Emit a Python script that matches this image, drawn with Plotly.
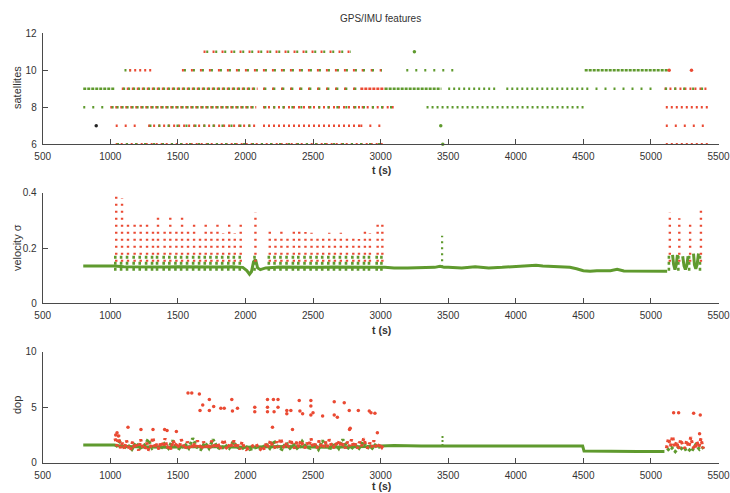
import plotly.graph_objects as go

# ---------------- data ----------------
# satellites in view: runs of fixes (start time, end time, count, class, density)
sat_t0 = [1690, 1710, 1105, 1140, 1530, 1545, 2860, 2870, 3190, 4510,
          800, 1085, 1095, 2130, 2140, 2850, 3030, 3500, 3930, 4590, 5100, 5105,
          800, 1000, 1010, 2130, 2140, 2860, 2870, 3340, 5110,
          1040, 1280, 1290, 2130, 2850, 5110,
          1040, 1050, 5110]
sat_t1 = [2800, 2780, 1150, 1320, 2850, 2840, 3020, 3010, 3580, 5130,
          1030, 2090, 2080, 2850, 2840, 3030, 3450, 3860, 4550, 5040, 5430, 5420,
          1000, 2080, 2070, 2860, 2850, 3100, 3090, 4510, 5430,
          1210, 2080, 2070, 2850, 3030, 5430,
          3020, 3010, 5430]
sat_lvl = [11, 11, 10, 10, 10, 10, 10, 10, 10, 10,
           9, 9, 9, 9, 9, 9, 9, 9, 9, 9, 9, 9,
           8, 8, 8, 8, 8, 8, 8, 8, 8,
           7, 7, 7, 7, 7, 7,
           6, 6, 6]
sat_cls = ["r", "g", "g", "r", "r", "g", "r", "g", "g", "g",
           "g", "r", "g", "r", "g", "r", "g", "g", "g", "g", "r", "g",
           "g", "r", "g", "r", "g", "r", "g", "g", "r",
           "r", "r", "g", "r", "r", "r",
           "r", "g", "r"]
sat_density = ["sparse", "sparse", "mid", "mid", "sparse", "sparse", "sparse", "sparse", "sparse", "dense",
               "dense", "mid", "mid", "sparse", "sparse", "dense", "dense", "mid", "mid", "sparse", "mid", "sparse",
               "sparse", "mid", "mid", "mid", "sparse", "mid", "sparse", "mid", "mid",
               "sparse", "mid", "sparse", "mid", "sparse", "sparse",
               "mid", "sparse", "mid"]
# single fixes
sat_pt_t = [3250, 5135, 5300, 896, 3445, 3460]
sat_pt_n = [11, 10, 10, 7, 7, 6]
sat_pt_cls = ["g", "r", "r", "k", "g", "g"]

# velocity sigma: smoothed baseline (None = gap)
vel_base_t = [800, 1030, 1100, 1200, 1300, 1400, 1500, 1600, 1700, 1800, 1900, 1980, 2010, 2030, 2045,
              2060, 2075, 2090, 2110, 2150, 2250, 2350, 2450, 2550, 2650, 2750, 2850, 2950, 3030,
              3100, 3200, 3300, 3400, 3440, 3470, 3500, 3600, 3700, 3800, 3900, 4000, 4100, 4150,
              4200, 4300, 4400, 4450, 4500, 4550, 4600, 4700, 4750, 4800, 4900, 5000, 5120,
              None, 5160, 5168, 5178, 5188, 5196,
              None, 5235, 5245, 5255, 5265, 5275,
              None, 5315, 5322, 5332, 5342, 5352]
vel_base_v = [0.135, 0.135, 0.132, 0.131, 0.132, 0.131, 0.132, 0.131, 0.132, 0.131, 0.132, 0.13, 0.118, 0.105, 0.115,
              0.15, 0.158, 0.128, 0.122, 0.128, 0.131, 0.13, 0.131, 0.13, 0.131, 0.13, 0.131, 0.13, 0.13,
              0.128, 0.128, 0.13, 0.13, 0.134, 0.13, 0.13, 0.128, 0.132, 0.128, 0.13, 0.133, 0.135, 0.138,
              0.135, 0.132, 0.13, 0.125, 0.118, 0.116, 0.118, 0.118, 0.123, 0.117, 0.116, 0.115, 0.116,
              None, 0.175, 0.14, 0.122, 0.14, 0.175,
              None, 0.17, 0.135, 0.122, 0.135, 0.17,
              None, 0.18, 0.14, 0.125, 0.14, 0.18]
# velocity sigma: peak of each excursion
vel_peak_t = [1044, 1087, 1131, 1180, 1225, 1272, 1316, 1353, 1402, 1444, 1489, 1531, 1575, 1620,
              1664, 1706, 1748, 1793, 1835, 1880, 1921, 1965, 2074, 2180, 2222, 2266, 2311, 2358,
              2398, 2444, 2489, 2533, 2575, 2620, 2662, 2706, 2751, 2798, 2840, 2884, 2921, 2978,
              3013, 5140, 5210, 5290, 5370]
vel_peak_v = [0.40, 0.38, 0.29, 0.30, 0.284, 0.30, 0.268, 0.316, 0.27, 0.317, 0.265, 0.326, 0.26, 0.29,
              0.247, 0.292, 0.26, 0.287, 0.253, 0.29, 0.253, 0.287, 0.328, 0.26, 0.247, 0.275, 0.235, 0.277,
              0.26, 0.258, 0.255, 0.25, 0.238, 0.255, 0.238, 0.255, 0.25, 0.245, 0.233, 0.27, 0.253, 0.292,
              0.284, 0.328, 0.308, 0.302, 0.349]
vel_green_spike_t = [3455]
vel_green_spike_v = [0.244]

# dilution of precision
dop_base_t = [800, 1030, 1100, 1400, 1700, 2000, 2300, 2600, 2900, 3020, 3100, 3300, 3440, 3480,
              3600, 3800, 4000, 4200, 4400, 4495, 4505, 4700, 4900, 5100]
dop_base_v = [1.6, 1.6, 1.45, 1.4, 1.45, 1.4, 1.45, 1.4, 1.45, 1.5, 1.55, 1.5, 1.5, 1.5,
              1.5, 1.5, 1.5, 1.52, 1.5, 1.5, 1.05, 1.0, 1.0, 1.0]
dop_blip_t = [3458]
dop_blip_v = [2.4]
dop_band_red_t = [1035, 1050, 1062, 1075, 1090, 1105, 1120, 1135, 1150, 1165, 1180, 1195, 1210, 1225,
                  1240, 1255, 1270, 1285, 1300, 1315, 1330, 1345, 1360, 1375, 1390, 1405, 1420, 1435,
                  1450, 1465, 1480, 1495, 1510, 1525, 1540, 1555, 1570, 1585, 1600, 1615, 1630, 1645,
                  1660, 1675, 1690, 1705, 1720, 1735, 1750, 1765, 1780, 1795, 1810, 1825, 1840, 1855,
                  1870, 1885, 1900, 1915, 1930, 1945, 1960, 1975, 1990, 2005, 2020, 2080, 2095, 2110,
                  2125, 2140, 2155, 2170, 2185, 2200, 2215, 2230, 2245, 2260, 2275, 2290, 2305, 2320,
                  2335, 2350, 2365, 2380, 2395, 2410, 2425, 2440, 2455, 2470, 2485, 2500, 2515, 2530,
                  2545, 2560, 2575, 2590, 2605, 2620, 2635, 2650, 2665, 2680, 2695, 2710, 2725, 2740,
                  2755, 2770, 2785, 2800, 2815, 2830, 2845, 2860, 2875, 2890, 2905, 2920, 2935, 2950,
                  2965, 2980, 2995, 3010, 3020,
                  None, 5115, 5130, 5145, 5160, 5175, 5190, 5205, 5220, 5235, 5250, 5265, 5280, 5295,
                  5310, 5325, 5340, 5355, 5370, 5385, 5395]
dop_band_red_v = [2.2, 1.5, 2.5, 1.3, 1.8, 1.2, 2.0, 1.4, 1.1, 1.9, 1.3, 1.6, 1.1, 2.1,
                  1.4, 1.2, 1.8, 1.1, 1.5, 2.3, 1.3, 1.7, 1.2, 1.9, 1.4, 2.2, 1.3, 1.6,
                  1.2, 2.0, 1.5, 1.8, 1.3, 2.1, 1.6, 1.2, 1.9, 1.4, 1.2, 1.8, 1.3, 2.0,
                  1.5, 1.2, 1.9, 1.4, 1.7, 1.2, 2.0, 1.5, 1.3, 1.8, 1.2, 1.6, 2.1, 1.4,
                  1.2, 1.8, 1.5, 2.0, 1.3, 1.6, 1.2, 1.9, 1.4, 1.2, 1.3, 1.7, 1.3, 1.2,
                  1.5, 1.2, 1.8, 1.4, 2.0, 1.5, 1.3, 1.9, 1.4, 2.2, 1.6, 1.3, 1.8, 1.4,
                  2.1, 1.5, 1.3, 1.9, 1.4, 2.0, 1.6, 1.3, 1.8, 1.5, 2.2, 1.4, 1.7, 1.3,
                  2.0, 1.5, 1.3, 1.9, 1.4, 2.1, 1.6, 1.3, 1.8, 1.5, 2.0, 1.4, 1.7, 1.3,
                  1.9, 1.5, 2.1, 1.4, 1.7, 1.3, 1.9, 1.5, 2.2, 1.6, 1.3, 1.8, 1.4, 2.0,
                  1.5, 1.3, 1.7, 1.4, 1.6,
                  None, 1.3, 2.2, 1.5, 2.4, 1.4, 1.9, 1.2, 2.1, 1.6, 1.3, 2.0, 1.4, 2.3,
                  1.5, 1.2, 1.9, 1.4, 2.2, 1.3, 1.6]
dop_band_green_t = [1040, 1070, 1100, 1130, 1160, 1190, 1220, 1250, 1280, 1310, 1340, 1370, 1400, 1430,
                    1460, 1490, 1520, 1550, 1580, 1610, 1640, 1670, 1700, 1730, 1760, 1790, 1820, 1850,
                    1880, 1910, 1940, 1970, 2000, 2030, 2060, 2090, 2120, 2150, 2180, 2210, 2240, 2270,
                    2300, 2330, 2360, 2390, 2420, 2450, 2480, 2510, 2540, 2570, 2600, 2630, 2660, 2690,
                    2720, 2750, 2780, 2810, 2840, 2870, 2900, 2930, 2960, 2990, 3020,
                    None, 5120, 5150, 5180, 5210, 5240, 5270, 5300, 5330, 5360, 5390]
dop_band_green_v = [1.4, 1.9, 1.3, 1.6, 1.2, 1.8, 1.3, 1.5, 2.1, 1.3, 1.6, 1.2, 1.7, 1.3,
                    2.0, 1.4, 1.2, 1.7, 1.3, 2.2, 1.4, 1.2, 1.8, 1.3, 2.1, 1.4, 1.2, 1.6,
                    1.3, 1.9, 1.4, 1.2, 1.5, 1.2, 1.3, 1.4, 1.2, 1.7, 1.3, 2.0, 1.4, 1.2,
                    1.8, 1.3, 1.6, 1.2, 1.9, 1.4, 1.3, 1.7, 1.2, 2.0, 1.4, 1.3, 1.8, 1.3,
                    2.1, 1.4, 1.2, 1.6, 1.3, 1.9, 1.4, 1.2, 1.6, 1.4, 1.5,
                    None, 1.1, 1.4, 1.0, 1.5, 1.1, 1.3, 1.0, 1.6, 1.2, 1.4]
dop_out_t = [1575, 1603, 1659, 1684, 1733, 1765, 1664, 1733, 1818, 1843, 1899, 1904, 1941, 2069, 2069,
             2163, 2163, 2163, 2207, 2241, 2212, 2241, 2200, 2306, 2336, 2306, 2398, 2403, 2423, 2484,
             2484, 2484, 2500, 2571, 2657, 2657, 2680, 2731, 2768, 2835, 2916, 2929, 2958, 2976,
             1040, 1050, 1060, 1131, 1227, 1316, 1402, 1420, 1489, 2348, 2770, 2775,
             5168, 5205, 5316, 5365, 5360]
dop_out_v = [6.28, 6.28, 6.2, 5.2, 5.7, 5.07, 4.7, 4.7, 4.9, 4.9, 5.7, 4.65, 4.9, 5.0, 4.6,
             5.7, 5.0, 4.6, 5.7, 5.7, 4.6, 5.0, 3.2, 4.7, 4.7, 4.4, 5.6, 4.65, 4.4, 5.6,
             5.1, 4.3, 4.5, 4.2, 5.5, 4.3, 4.1, 5.4, 4.7, 4.7, 4.65, 4.5, 4.45, 2.7,
             2.5, 2.7, 2.4, 3.2, 3.0, 3.0, 3.0, 2.9, 2.8, 3.0, 3.0, 3.1,
             4.5, 4.5, 4.45, 4.3, 2.6]

x_ticks = [500, 1000, 1500, 2000, 2500, 3000, 3500, 4000, 4500, 5000, 5500]

# ---------------- styling ----------------
RED = "#ea4a33"
GREEN = "#5f9a2e"
COLORS = {"r": RED, "g": GREEN, "k": "#222222"}
DASH = {"dense": "3px,1px", "mid": "2px,3px", "sparse": "2px,7px"}
AXC = "#4a4a4a"
FONT = "Liberation Sans, Arial, sans-serif"

fig = go.Figure()

# satellites panel (x, y)
for t0, t1, n, c, d in zip(sat_t0, sat_t1, sat_lvl, sat_cls, sat_density):
    fig.add_trace(go.Scatter(x=[t0, t1], y=[n, n], mode="lines", xaxis="x", yaxis="y",
                             line=dict(color=COLORS[c], width=2.6, dash=DASH[d]),
                             cliponaxis=False, hoverinfo="skip", showlegend=False))
fig.add_trace(go.Scatter(x=sat_pt_t, y=sat_pt_n, mode="markers", xaxis="x", yaxis="y",
                         marker=dict(color=[COLORS[c] for c in sat_pt_cls], size=3.5),
                         cliponaxis=False, showlegend=False))

# velocity panel (x2, y2)
fig.add_trace(go.Scatter(x=vel_base_t, y=vel_base_v, mode="lines", xaxis="x2", yaxis="y2",
                         line=dict(color=GREEN, width=3), connectgaps=False, showlegend=False))
for t, v in zip(vel_peak_t, vel_peak_v):
    fig.add_trace(go.Scatter(x=[t - 7, t - 7], y=[0.118, 0.172], mode="lines", xaxis="x2", yaxis="y2",
                             line=dict(color=GREEN, width=2.6, dash="3px,3px"), showlegend=False))
    fig.add_trace(go.Scatter(x=[t, t], y=[0.15, v], mode="lines", xaxis="x2", yaxis="y2",
                             line=dict(color=RED, width=2.4, dash="2px,5px"), showlegend=False))
for t, v in zip(vel_green_spike_t, vel_green_spike_v):
    fig.add_trace(go.Scatter(x=[t, t], y=[0.13, v], mode="lines", xaxis="x2", yaxis="y2",
                             line=dict(color=GREEN, width=2.2, dash="2px,4px"), showlegend=False))

# dop panel (x3, y3)
fig.add_trace(go.Scatter(x=dop_base_t, y=dop_base_v, mode="lines", xaxis="x3", yaxis="y3",
                         line=dict(color=GREEN, width=3), showlegend=False))
fig.add_trace(go.Scatter(x=dop_band_green_t, y=dop_band_green_v, mode="lines", xaxis="x3", yaxis="y3",
                         line=dict(color=GREEN, width=3.2, dash="3px,2px"), connectgaps=False,
                         showlegend=False))
fig.add_trace(go.Scatter(x=dop_band_red_t, y=dop_band_red_v, mode="lines", xaxis="x3", yaxis="y3",
                         line=dict(color=RED, width=3.2, dash="3px,3px"), connectgaps=False,
                         showlegend=False))
for t, v in zip(dop_blip_t, dop_blip_v):
    fig.add_trace(go.Scatter(x=[t, t], y=[1.5, v], mode="lines", xaxis="x3", yaxis="y3",
                             line=dict(color=GREEN, width=2, dash="2px,2px"), showlegend=False))
fig.add_trace(go.Scatter(x=dop_out_t, y=dop_out_v, mode="markers", xaxis="x3", yaxis="y3",
                         marker=dict(color=RED, size=3.5), showlegend=False))

W, H = 730, 493
xdom = [42.7 / W, 718.5 / W]


def ydom(top_px, bot_px):
    return [1 - bot_px / H, 1 - top_px / H]


axis_common = dict(showline=True, linecolor=AXC, linewidth=1, ticks="inside", ticklen=5,
                   tickcolor=AXC, showgrid=False, zeroline=False, mirror=False, automargin=False,
                   tickfont=dict(family=FONT, size=10, color="#333333"))
xaxis_common = dict(axis_common, range=[500, 5500], tickvals=x_ticks, domain=xdom,
                    ticklabelstandoff=3, ticklabeloverflow="allow")
yaxis_common = dict(axis_common, ticklabelstandoff=3)

fig.update_layout(
    width=W, height=H,
    margin=dict(l=0, r=0, t=0, b=0),
    paper_bgcolor="white", plot_bgcolor="white",
    xaxis=dict(xaxis_common, anchor="y"),
    yaxis=dict(yaxis_common, range=[6, 12], tickvals=[6, 8, 10, 12], domain=ydom(33.3, 144.3), anchor="x"),
    xaxis2=dict(xaxis_common, anchor="y2"),
    yaxis2=dict(yaxis_common, range=[0, 0.4], tickvals=[0, 0.2, 0.4], domain=ydom(192.7, 303.3), anchor="x2"),
    xaxis3=dict(xaxis_common, anchor="y3"),
    yaxis3=dict(yaxis_common, range=[0, 10], tickvals=[0, 5, 10], domain=ydom(351.7, 462.7), anchor="x3"),
)

ann_font = dict(family=FONT, size=10.5, color="#333333")
annotations = [
    dict(text="GPS/IMU features", x=380 / W, y=1 - 18 / H, font=dict(family=FONT, size=10, color="#333333")),
    dict(text="<b>t (s)</b>", x=381 / W, y=1 - 170 / H, font=ann_font),
    dict(text="<b>t (s)</b>", x=381 / W, y=1 - 330 / H, font=ann_font),
    dict(text="<b>t (s)</b>", x=381 / W, y=1 - 486 / H, font=ann_font),
    dict(text="satellites", x=17 / W, y=1 - 88 / H, textangle=-90, font=dict(ann_font, size=11)),
    dict(text="velocity σ", x=17 / W, y=1 - 248 / H, textangle=-90, font=dict(ann_font, size=11)),
    dict(text="dop", x=17 / W, y=1 - 405 / H, textangle=-90, font=dict(ann_font, size=11)),
]
for a in annotations:
    a.update(xref="paper", yref="paper", showarrow=False, xanchor="center", yanchor="middle")
fig.update_layout(annotations=annotations)

fig.write_html("out.html")
